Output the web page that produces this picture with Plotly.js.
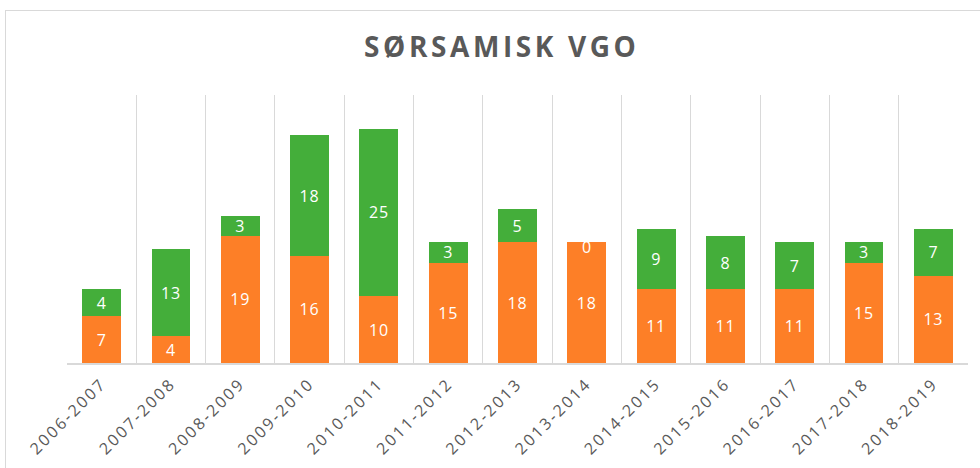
<!DOCTYPE html>
<html>
<head>
<meta charset="utf-8">
<script src="https://cdn.plot.ly/plotly-3.0.1.min.js"></script>
<style>
  html, body { margin: 0; padding: 0; background: #fff; }
  #frame { position: absolute; left: 5px; top: 10px; width: 990px; height: 470px; border: 1px solid #d9d9d9; box-sizing: border-box; }
  #chart { position: absolute; left: 0; top: 0; width: 980px; height: 468px; }
  #chart .gtitle { letter-spacing: 3.6px; }
  #chart .xtick text { letter-spacing: 2.4px; }
  #chart .bartext { letter-spacing: 0.8px; }
</style>
</head>
<body>
<div id="frame"></div>
<div id="chart"></div>
<script>
const categories = ["2006-2007","2007-2008","2008-2009","2009-2010","2010-2011","2011-2012","2012-2013","2013-2014","2014-2015","2015-2016","2016-2017","2017-2018","2018-2019"];
const orangeValues = [7,4,19,16,10,15,18,18,11,11,11,15,13];
const greenValues = [4,13,3,18,25,3,5,0,9,8,7,3,7];
const titleText = "SØRSAMISK VGO";

const orange = "#fd7f27";
const green = "#44ae3a";
const labelFont = {family: "Open Sans, Liberation Sans, sans-serif", size: 16, color: "#ffffff"};

const traces = [
  {
    type: "bar", x: categories, y: orangeValues, name: "orange",
    marker: {color: orange},
    text: orangeValues.map(String), textposition: "inside", insidetextanchor: "middle",
    textangle: 0, textfont: labelFont, constraintext: "none", hoverinfo: "x+y"
  },
  {
    type: "bar", x: categories, y: greenValues, name: "green",
    marker: {color: green},
    text: greenValues.map(String), textposition: "inside", insidetextanchor: "middle",
    textangle: 0, textfont: labelFont, constraintext: "none", hoverinfo: "x+y"
  }
];

// zero-valued labels (drawn at the top of the stack, like the reference)
const annotations = [];
greenValues.forEach((v, i) => {
  if (v === 0) {
    annotations.push({
      x: categories[i], y: orangeValues[i], xref: "x", yref: "y",
      text: String(v), showarrow: false, yanchor: "middle", yshift: -5,
      font: labelFont
    });
  }
});

const layout = {
  width: 980, height: 468,
  margin: {l: 67, r: 12, t: 95, b: 105},
  paper_bgcolor: "rgba(0,0,0,0)",
  plot_bgcolor: "rgba(0,0,0,0)",
  barmode: "stack",
  bargap: 0.44,
  showlegend: false,
  title: {
    text: "<b>" + titleText + "</b>",
    x: 0.512, xanchor: "center", y: 0.9, yanchor: "middle",
    font: {family: "Open Sans, sans-serif", size: 28, color: "#595959"}
  },
  xaxis: {
    type: "category",
    tickson: "boundaries",
    showgrid: true, gridcolor: "#d9d9d9", gridwidth: 1,
    showline: true, linecolor: "#d9d9d9", linewidth: 2,
    ticks: "", tickangle: -45, ticklabelstandoff: 3,
    tickfont: {family: "Open Sans, sans-serif", size: 16, color: "#595959"}
  },
  yaxis: {
    range: [0, 40],
    showgrid: false, zeroline: false, showline: false,
    showticklabels: false, ticks: ""
  },
  annotations: annotations
};

Plotly.newPlot("chart", traces, layout, {staticPlot: true, displayModeBar: false});
</script>
</body>
</html>
